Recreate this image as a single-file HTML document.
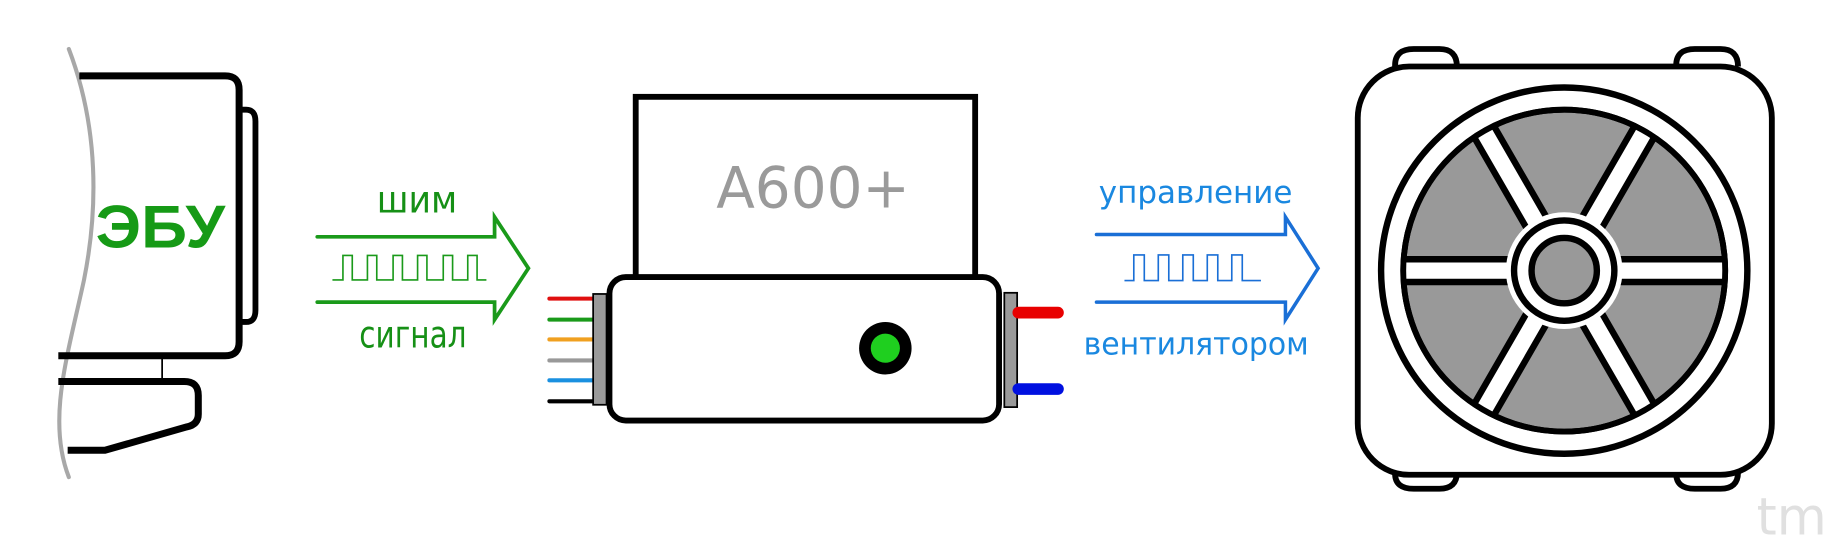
<!DOCTYPE html>
<html><head><meta charset="utf-8"><style>html,body{margin:0;padding:0;background:#fff}svg{display:block}</style></head>
<body>
<svg width="1829" height="545" viewBox="0 0 1568 467.2" xmlns="http://www.w3.org/2000/svg">
<defs><clipPath id="fc"><circle cx="1341" cy="232" r="139"/></clipPath></defs>
<!-- ECU -->
<path d="M59,42 C85,110 84,180 72,240 C58,305 40,360 59,409" fill="none" stroke="#a8a8a8" stroke-width="3.5" stroke-linecap="round"/>
<path d="M68,65 H193 Q205,65 205,77 V293 Q205,305 193,305 H50" fill="none" stroke="#000" stroke-width="6"/>
<path d="M205,94 H211 Q219,94 219,104 V266 Q219,276 211,276 H205" fill="none" stroke="#000" stroke-width="5"/>
<line x1="139" y1="305" x2="139" y2="327" stroke="#000" stroke-width="1.5"/>
<path d="M50,327 H158 Q170,327 170,339 V355 Q170,364 160,366 L90,386 H58" fill="none" stroke="#000" stroke-width="6"/>
<text x="82" y="212" font-family="Liberation Sans, sans-serif" font-weight="bold" font-size="52" fill="#169a16" textLength="111" lengthAdjust="spacingAndGlyphs">ЭБУ</text>
<!-- green arrow -->
<text x="323" y="182" font-family="DejaVu Sans, sans-serif" font-size="32" fill="#169016" textLength="69" lengthAdjust="spacingAndGlyphs">шим</text>
<path d="M272,203 H424 V186 L453,230 L424,274 V259 H272" fill="none" stroke="#1a9a1a" stroke-width="3.2" stroke-linejoin="miter" stroke-linecap="round"/>
<path d="M285,240 H294 V219 H302 V240 H315 V219 H323 V240 H337 V219 H345 V240 H358 V219 H366 V240 H380 V219 H388 V240 H401 V219 H409 V240 H417" fill="none" stroke="#1a9a1a" stroke-width="1.4"/>
<text x="308" y="298" font-family="DejaVu Sans, sans-serif" font-size="32" fill="#169016" textLength="92" lengthAdjust="spacingAndGlyphs">сигнал</text>
<!-- wires -->
<g stroke-width="3.5" stroke-linecap="round">
<line x1="471" y1="256" x2="510" y2="256" stroke="#e01010"/>
<line x1="471" y1="274" x2="510" y2="274" stroke="#1a9a1a"/>
<line x1="471" y1="291" x2="510" y2="291" stroke="#f0a020"/>
<line x1="471" y1="309" x2="510" y2="309" stroke="#999"/>
<line x1="471" y1="326" x2="510" y2="326" stroke="#1a90e0"/>
<line x1="471" y1="344" x2="510" y2="344" stroke="#000"/>
</g>
<rect x="508.5" y="252" width="11.5" height="95" fill="#9a9a9a" stroke="#000" stroke-width="1.5"/>
<!-- A600 -->
<rect x="545" y="83" width="291" height="160" fill="#fff" stroke="#000" stroke-width="5"/>
<text x="614" y="178" font-family="DejaVu Sans, sans-serif" font-size="49" fill="#9a9a9a" textLength="166" lengthAdjust="spacingAndGlyphs">A600+</text>
<rect x="522.5" y="237.5" width="334" height="123" rx="14" fill="#fff" stroke="#000" stroke-width="5"/>
<circle cx="759" cy="298.5" r="22.5" fill="#000"/>
<circle cx="759" cy="298.5" r="12.5" fill="#1fcf1f"/>
<rect x="861" y="251" width="11" height="98" fill="#9a9a9a" stroke="#000" stroke-width="1.5"/>
<line x1="873" y1="268" x2="907" y2="268" stroke="#e80000" stroke-width="10" stroke-linecap="round"/>
<line x1="873" y1="333.5" x2="907" y2="333.5" stroke="#0010e0" stroke-width="10" stroke-linecap="round"/>
<!-- blue arrow -->
<text x="942" y="174" font-family="DejaVu Sans, sans-serif" font-size="27" fill="#1a88e0" textLength="166" lengthAdjust="spacingAndGlyphs">управление</text>
<path d="M940,201 H1102 V186 L1130,230 L1102,274 V259 H940" fill="none" stroke="#1a6fd6" stroke-width="3" stroke-linecap="round"/>
<path d="M964,240.5 H972 V218.5 H981 V240.5 H993 V218.5 H1002 V240.5 H1014 V218.5 H1023 V240.5 H1035 V218.5 H1044 V240.5 H1056 V218.5 H1065 V240.5 H1081" fill="none" stroke="#1a6fd6" stroke-width="1.4"/>
<text x="929" y="304" font-family="DejaVu Sans, sans-serif" font-size="27" fill="#1a88e0" textLength="193" lengthAdjust="spacingAndGlyphs">вентилятором</text>
<!-- fan -->
<g fill="#fff" stroke="#000" stroke-width="5">
<path d="M1196,57 V56 Q1196,42 1212,42 H1234 Q1249,42 1249,57"/>
<path d="M1437,57 V56 Q1437,42 1453,42 H1475 Q1490,42 1490,57"/>
<path d="M1196,405 V406 Q1196,419 1212,419 H1234 Q1249,419 1249,405"/>
<path d="M1437,405 V406 Q1437,419 1453,419 H1475 Q1490,419 1490,405"/>
<rect x="1164" y="57" width="355" height="350" rx="44"/>
<circle cx="1341" cy="232" r="157" stroke-width="5.5"/>
<circle cx="1341" cy="232" r="138" fill="#999"/>
</g>
<g clip-path="url(#fc)" stroke-linecap="butt">
<g stroke="#000" stroke-width="25">
<line x1="1341" y1="232" x2="1491" y2="232"/><line x1="1341" y1="232" x2="1191" y2="232"/>
<line x1="1341" y1="232" x2="1416" y2="102"/><line x1="1341" y1="232" x2="1266" y2="102"/>
<line x1="1341" y1="232" x2="1416" y2="362"/><line x1="1341" y1="232" x2="1266" y2="362"/>
</g>
<g stroke="#fff" stroke-width="14">
<line x1="1341" y1="232" x2="1491" y2="232"/><line x1="1341" y1="232" x2="1191" y2="232"/>
<line x1="1341" y1="232" x2="1416" y2="102"/><line x1="1341" y1="232" x2="1266" y2="102"/>
<line x1="1341" y1="232" x2="1416" y2="362"/><line x1="1341" y1="232" x2="1266" y2="362"/>
</g>
</g>
<circle cx="1341" cy="232" r="138" fill="none" stroke="#000" stroke-width="5"/>
<circle cx="1341" cy="232" r="50" fill="#fff"/>
<circle cx="1341" cy="232" r="43" fill="#fff" stroke="#000" stroke-width="5.5"/>
<circle cx="1341" cy="232" r="28" fill="#999" stroke="#000" stroke-width="5.5"/>
<text x="1506" y="458" font-family="DejaVu Sans, sans-serif" font-size="44" fill="#e0e0e0">tm</text>
</svg>
</body></html>
